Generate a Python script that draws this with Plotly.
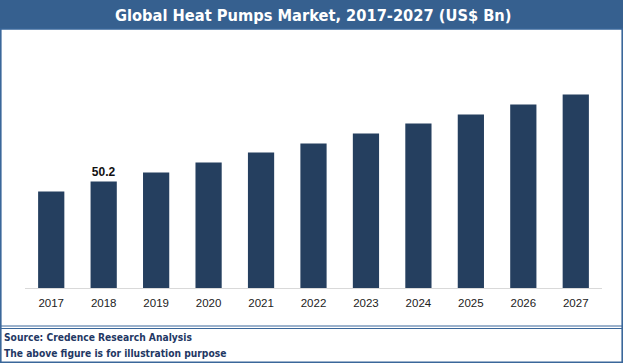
import plotly.graph_objects as go

years = ["2017", "2018", "2019", "2020", "2021", "2022", "2023", "2024", "2025", "2026", "2027"]
values = [45.5, 50.2, 54.4, 59.2, 63.9, 68.1, 72.8, 77.5, 81.8, 86.5, 91.2]
labels = ["", "<b>50.2</b>", "", "", "", "", "", "", "", "", ""]

title_text = "Global Heat Pumps Market, 2017-2027 (US$ Bn)"
source_text = "Source: Credence Research Analysis"
note_text = "The above figure is for illustration purpose"

W, H = 623, 363
ML, MR, MT, MB = 25, 21, 40, 75
PW, PH = W - ML - MR, H - MT - MB

def px(x):
    return (x - ML) / PW

def py(y):
    return (H - MB - y) / PH

BAR = "#253f5f"
BLUE = "#36608f"
BORDER = "#3a679a"
NAVY = "#1f3864"

fig = go.Figure(go.Bar(
    x=years, y=values, marker_color=BAR, marker_line_width=0,
    text=labels, textposition="outside", cliponaxis=False,
    textfont=dict(family="Liberation Sans", size=12, color="#111111"),
))

shapes = [
    dict(type="rect", xref="paper", yref="paper", x0=px(0), x1=px(W), y0=py(0), y1=py(29),
         fillcolor=BLUE, line_width=0, layer="below"),
    dict(type="rect", xref="paper", yref="paper", x0=px(0.8), x1=px(622.2), y0=py(29), y1=py(362.2),
         fillcolor="rgba(0,0,0,0)", line=dict(color=BORDER, width=1.6)),
    dict(type="line", xref="paper", yref="paper", x0=px(0), x1=px(W), y0=py(326), y1=py(326),
         line=dict(color=BORDER, width=1)),
    dict(type="line", xref="paper", yref="paper", x0=px(0), x1=px(W), y0=py(328.5), y1=py(328.5),
         line=dict(color=BORDER, width=1)),
]

annotations = [
    dict(text="<b>" + title_text + "</b>", xref="paper", yref="paper", x=px(313), y=py(15.5),
         xanchor="center", yanchor="middle", showarrow=False,
         font=dict(family="DejaVu Sans Condensed", size=16.3, color="white")),
    dict(text="<b>" + source_text + "</b>", xref="paper", yref="paper", x=px(2), y=py(337),
         xanchor="left", yanchor="middle", showarrow=False,
         font=dict(family="DejaVu Sans Condensed", size=10.2, color=NAVY)),
    dict(text="<b>" + note_text + "</b>", xref="paper", yref="paper", x=px(2), y=py(353),
         xanchor="left", yanchor="middle", showarrow=False,
         font=dict(family="DejaVu Sans Condensed", size=10.2, color=NAVY)),
]

fig.update_layout(
    width=W, height=H, margin=dict(l=ML, r=MR, t=MT, b=MB),
    paper_bgcolor="white", plot_bgcolor="white",
    bargap=0.5, showlegend=False,
    shapes=shapes, annotations=annotations,
    xaxis=dict(showline=True, linecolor="#d9d9d9", linewidth=1, ticks="", showgrid=False,
               tickfont=dict(family="Liberation Sans", size=11.5, color="#222222"), ticklabelstandoff=4),
    yaxis=dict(range=[0, PH * 50.2 / 106.5], visible=False, showgrid=False),
)

fig.write_html("out.html", config={"displayModeBar": False},
               post_script="document.body.style.margin='0';")
